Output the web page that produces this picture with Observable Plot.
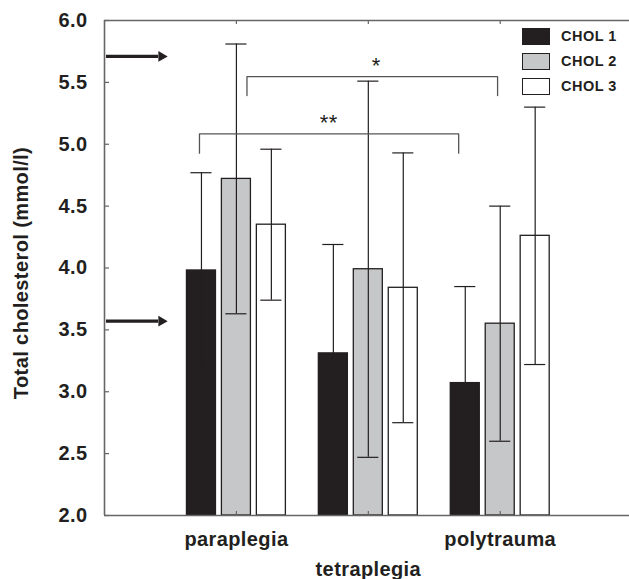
<!DOCTYPE html>
<html>
<head>
<meta charset="utf-8">
<script src="https://cdn.jsdelivr.net/npm/d3@7"></script>
<script src="https://cdn.jsdelivr.net/npm/@observablehq/plot@0.6"></script>
<style>
  body { margin: 0; background: #fff; }
  #wrap { position: relative; width: 629px; height: 579px; overflow: hidden; }
  .legend { position: absolute; left: 522px; top: 28px; font: bold 14.5px "Liberation Sans", Arial, sans-serif; letter-spacing: 0.5px; color: #231f20; }
  .item { position: absolute; left: 0; height: 17px; width: 110px; }
  .box { position: absolute; left: 0; top: 0; width: 28px; height: 17px; box-sizing: border-box; border: 1.3px solid #231f20; }
  .lab { position: absolute; left: 39px; top: 0; line-height: 17px; white-space: nowrap; }
</style>
</head>
<body>
<div id="wrap"></div>
<script>
// ---- data ----
const groups = ["paraplegia", "tetraplegia", "polytrauma"];
const series = ["CHOL 1", "CHOL 2", "CHOL 3"];
const chol1 = [3.98, 3.31, 3.07];
const chol1Sd = [0.79, 0.88, 0.78];
const chol2 = [4.72, 3.99, 3.55];
const chol2Sd = [1.09, 1.52, 0.95];
const chol3 = [4.35, 3.84, 4.26];
const chol3Sd = [0.61, 1.09, 1.04];
const seriesColors = ["#231f20", "#c6c7c9", "#ffffff"];
const yTicks = [2.0, 2.5, 3.0, 3.5, 4.0, 4.5, 5.0, 5.5, 6.0];
const yLabel = "Total cholesterol (mmol/l)";
// reference arrows (values on the y axis)
const refArrows = [5.71, 3.57];
// significance brackets
const bracketText = ["*", "**"];
const bracketX1 = [1.08, 0.72];
const bracketX2 = [2.98, 2.685];
const bracketY = [5.547, 5.084];
const bracketFoot = [5.394, 4.928];
const starX = [2.06, 1.70];

// ---- build tables ----
const values = [chol1, chol2, chol3];
const sds = [chol1Sd, chol2Sd, chol3Sd];
const table = groups.flatMap((g, gi) => series.map((s, si) => ({
  group: g, gi, series: s, si, value: values[si][gi], sd: sds[si][gi]
})));
const step = 0.265, halfW = 0.11, capHalf = 0.08;
const cx = d => d.gi + 1 + (d.si - 1) * step;
const caps = table.flatMap(d => [
  {x: cx(d), y: d.value + d.sd},
  {x: cx(d), y: d.value - d.sd}
]);
const bracketPts = bracketText.flatMap((t, i) => [
  {b: i, x: bracketX1[i], y: bracketFoot[i]},
  {b: i, x: bracketX1[i], y: bracketY[i]},
  {b: i, x: bracketX2[i], y: bracketY[i]},
  {b: i, x: bracketX2[i], y: bracketFoot[i]}
]);
const stars = bracketText.map((t, i) => ({t, x: starX[i], y: bracketY[i]}));

const ink = "#231f20";
const frameInk = "#666666";
const fs = 20;

const chart = Plot.plot({
  width: 629,
  height: 579,
  marginLeft: 104,
  marginRight: 0,
  marginTop: 20,
  marginBottom: 64,
  style: {fontFamily: '"Liberation Sans", Arial, sans-serif', fontSize: fs + "px", fontWeight: "bold", letterSpacing: "0.4px", color: ink, background: "#fff", overflow: "visible"},
  x: {domain: [0, 3.98], axis: null},
  y: {domain: [2, 6], axis: null},
  color: {domain: series, range: seriesColors},
  marks: [
    Plot.rect(table, {x1: d => cx(d) - halfW, x2: d => cx(d) + halfW, y1: 2, y2: "value", fill: "series", stroke: ink, strokeWidth: 1.3}),
    Plot.ruleX(table, {x: cx, y1: d => d.value - d.sd, y2: d => d.value + d.sd, stroke: ink, strokeWidth: 1.2}),
    Plot.ruleY(caps, {x1: d => d.x - capHalf, x2: d => d.x + capHalf, y: "y", stroke: ink, strokeWidth: 1.2}),
    // frame
    Plot.ruleX([0], {stroke: frameInk, strokeWidth: 1.6}),
    Plot.ruleY([2, 6], {stroke: frameInk, strokeWidth: 1.6}),
    Plot.tickY(yTicks, {y: d => d, insetRight: 520, stroke: frameInk, strokeWidth: 1.2}),
    Plot.tickX([1, 2, 3], {x: d => d, insetBottom: 491, stroke: frameInk, strokeWidth: 1.2}),
    Plot.tickX([1, 2, 3], {x: d => d, insetTop: 491, stroke: frameInk, strokeWidth: 1.2}),
    // y tick labels
    Plot.axisY(yTicks, {tickSize: 0, tickPadding: 17, tickFormat: d3.format(".1f"), label: null, fontSize: fs, fontWeight: "bold", fill: ink}),
    Plot.text([yLabel], {frameAnchor: "left", textAnchor: "middle", rotate: -90, dx: -83, dy: 5, fontSize: fs, fontWeight: "bold", fill: ink}),
    // category labels
    Plot.text(groups, {x: (d, i) => i + 1, text: d => d, frameAnchor: "bottom", lineAnchor: "bottom", dy: 30, filter: (d, i) => i !== 1, fontSize: fs, fontWeight: "bold", fill: ink}),
    Plot.text(groups, {x: (d, i) => i + 1, text: d => d, frameAnchor: "bottom", lineAnchor: "bottom", dy: 60, filter: (d, i) => i === 1, fontSize: fs, fontWeight: "bold", fill: ink}),
    // reference arrows
    Plot.ruleY(refArrows, {x1: 0.015, x2: 0.41, stroke: ink, strokeWidth: 3.2}),
    Plot.dot(refArrows, {x: 0.432, y: d => d, symbol: "triangle", r: 4, rotate: 90, fill: ink, stroke: null}),
    // significance brackets
    Plot.line(bracketPts, {x: "x", y: "y", z: "b", stroke: "#555", strokeWidth: 1.3, curve: "linear"}),
    Plot.text(stars, {x: "x", y: "y", text: "t", lineAnchor: "bottom", dy: -4, fontSize: 22, fontWeight: "normal", fill: ink})
  ]
});

const wrap = document.getElementById("wrap");
wrap.appendChild(chart);

// legend
const legend = document.createElement("div");
legend.className = "legend";
series.forEach((s, i) => {
  const item = document.createElement("div");
  item.className = "item";
  item.style.top = (i * 25) + "px";
  const box = document.createElement("div");
  box.className = "box";
  box.style.background = seriesColors[i];
  const lab = document.createElement("span");
  lab.className = "lab";
  lab.textContent = s;
  item.appendChild(box);
  item.appendChild(lab);
  legend.appendChild(item);
});
wrap.appendChild(legend);
</script>
</body>
</html>
